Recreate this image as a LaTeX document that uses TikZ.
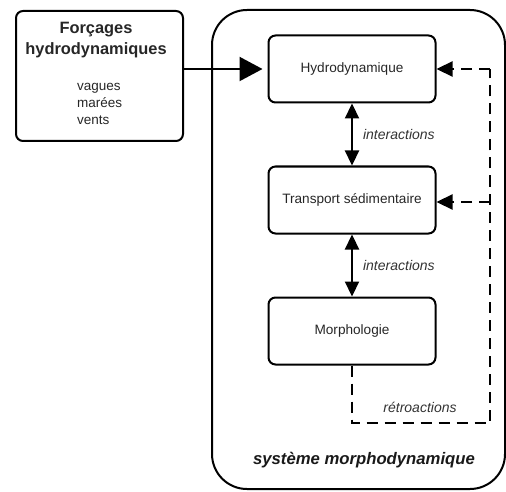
\documentclass[tikz,border=0pt]{standalone}
\usepackage{fontspec}
\setmainfont{Liberation Sans}
\usetikzlibrary{arrows.meta}
\begin{document}
\begin{tikzpicture}[x=1pt,y=-1pt,
  box/.style={draw,line width=2pt,rounded corners=7pt,minimum width=167pt,minimum height=67pt,font=\fontsize{13.6}{16}\selectfont,text=black!85},
  lnk/.style={line width=2.2pt},
  tip/.style={-{Triangle[length=16pt,width=15pt]}},
  bigtip/.style={-{Triangle[length=23pt,width=24pt]}},
  dtip/.style={{Triangle[length=15pt,width=14pt]}-{Triangle[length=15pt,width=14pt]}},
  dsh/.style={line width=2.2pt,dash pattern=on 11pt off 7pt},
  lab/.style={font=\itshape\fontsize{14}{16}\selectfont,text=black!80}]
\useasboundingbox (0,0) rectangle (506,492);
% big system box
\draw[line width=2pt,rounded corners=35pt] (212,10) -- (505,10) -- (505,489) -- (212,489) -- cycle;
% left box
\node[draw,line width=2pt,rounded corners=7pt,minimum width=167pt,minimum height=130pt,anchor=north west] (forc) at (15,10) {};
\node[font=\bfseries\fontsize{16.4}{21}\selectfont,align=center,text=black!85] (forct) at (96,40) {Forçages\\hydrodynamiques};
\node[font=\fontsize{13.5}{17}\selectfont,align=left,anchor=west,inner sep=0pt,text=black!85] (forcl) at (77,104) {vagues\\marées\\vents};
% inner boxes
\node[box] (hyd) at (352,69) {Hydrodynamique};
\node[box] (tra) at (352,200) {Transport sédimentaire};
\node[box] (mor) at (352,331) {Morphologie};
% arrows
\draw[lnk,bigtip,shorten >=5pt] (forc.east |- hyd.west) -- (hyd.west);
\draw[lnk,dtip] (hyd.south) -- node[lab,anchor=west,inner sep=0pt,xshift=10pt] {interactions} (tra.north);
\draw[lnk,dtip] (tra.south) -- node[lab,anchor=west,inner sep=0pt,xshift=10pt] {interactions} (mor.north);
% feedback
\coordinate (c1) at (352,423);
\coordinate (c2) at (490,423);
\coordinate (c3) at (490,69);
\coordinate (c4) at (490,202);
\draw[dsh] (mor.south) -- (c1) -- (c2) -- (c3);
\draw[dsh,tip] (c3) -- (hyd.east);
\draw[dsh,tip] (c4) -- (tra.east |- c4);
\node[lab] (ret) at (420,407) {rétroactions};
\node[font=\bfseries\itshape\fontsize{16.7}{19}\selectfont,text=black!90] (sys) at (364,460) {système morphodynamique};
\end{tikzpicture}
\end{document}
